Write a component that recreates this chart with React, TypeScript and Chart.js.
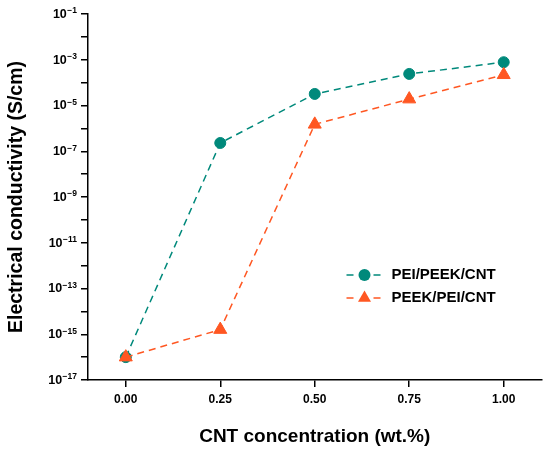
import { useEffect, useRef } from "react"
import { Chart, registerables } from "chart.js"

Chart.register(...registerables)

const concentrations = [0, 0.25, 0.5, 0.75, 1.0]
const peiPeekCnt = [1e-16, 2.3e-7, 3.2e-5, 2.4e-4, 7.8e-4]
const peekPeiCnt = [1e-16, 1.6e-15, 1.5e-6, 1.9e-5, 2.2e-4]
const xTicks = [0, 0.25, 0.5, 0.75, 1.0]
const yExponents = [-17, -16, -15, -14, -13, -12, -11, -10, -9, -8, -7, -6, -5, -4, -3, -2, -1]
const yLabelExponents = [-17, -15, -13, -11, -9, -7, -5, -3, -1]

const TEAL = "rgb(0, 137, 123)"
const ORANGE = "rgb(255, 87, 34)"
const FONT = "'Liberation Sans', Arial, sans-serif"

// y tick labels as 10 with a raised exponent
const powerLabels = {
  id: "powerLabels",
  afterDraw(chart: Chart) {
    const ctx = chart.ctx
    const scale: any = chart.scales.y
    const right = scale.right - 11
    ctx.save()
    ctx.fillStyle = "#000"
    ctx.textBaseline = "middle"
    ctx.textAlign = "right"
    yLabelExponents.forEach(e => {
      const y = scale.getPixelForValue(Math.pow(10, e))
      const exp = "−" + String(Math.abs(e))
      ctx.font = `bold 8.5px ${FONT}`
      const w = ctx.measureText(exp).width
      ctx.fillText(exp, right, y - 3)
      ctx.font = `bold 12.5px ${FONT}`
      ctx.fillText("10", right - w - 0.5, y + 0.5)
    })
    ctx.restore()
  },
}

// legend drawn inside the plot area
const insideLegend = {
  id: "insideLegend",
  afterDraw(chart: Chart) {
    const ctx = chart.ctx
    const ca = chart.chartArea
    const x0 = ca.right - 195
    const rows = [ca.top + 261, ca.top + 284]
    chart.data.datasets.forEach((ds: any, i: number) => {
      const y = rows[i]
      ctx.save()
      ctx.strokeStyle = ds.borderColor
      ctx.lineWidth = 1.5
      ctx.beginPath()
      ctx.moveTo(x0, y); ctx.lineTo(x0 + 7, y)
      ctx.moveTo(x0 + 27, y); ctx.lineTo(x0 + 34, y)
      ctx.stroke()
      ctx.fillStyle = ds.backgroundColor
      const cx = x0 + 18
      ctx.beginPath()
      if (ds.pointStyle === "triangle") {
        const r = ds.pointRadius
        let rad = 0
        ctx.moveTo(cx + Math.sin(rad) * r, y - Math.cos(rad) * r)
        rad += (Math.PI * 2) / 3
        ctx.lineTo(cx + Math.sin(rad) * r, y - Math.cos(rad) * r)
        rad += (Math.PI * 2) / 3
        ctx.lineTo(cx + Math.sin(rad) * r, y - Math.cos(rad) * r)
        ctx.closePath()
      } else {
        ctx.arc(cx, y, ds.pointRadius + 0.5, 0, Math.PI * 2)
      }
      ctx.fill()
      ctx.fillStyle = "#000"
      ctx.font = `bold 15px ${FONT}`
      ctx.textBaseline = "middle"
      ctx.fillText(ds.label, x0 + 45, y)
      ctx.restore()
    })
  },
}

export default function App() {
  const chartRef = useRef<HTMLCanvasElement>(null)
  const chartInstance = useRef<Chart | null>(null)

  useEffect(() => {
    if (!chartRef.current) return
    if (chartInstance.current) chartInstance.current.destroy()
    const ctx = chartRef.current.getContext("2d")
    if (!ctx) return

    chartInstance.current = new Chart(ctx, {
      type: "line",
      data: {
        datasets: [
          {
            label: "PEI/PEEK/CNT",
            data: concentrations.map((x, i) => ({ x, y: peiPeekCnt[i] })),
            borderColor: TEAL,
            backgroundColor: TEAL,
            pointBorderColor: TEAL,
            borderWidth: 1.5,
            borderDash: [7, 5],
            pointStyle: "circle",
            pointRadius: 5.5,
            pointBorderWidth: 1,
            order: 2,
          },
          {
            label: "PEEK/PEI/CNT",
            data: concentrations.map((x, i) => ({ x, y: peekPeiCnt[i] })),
            borderColor: ORANGE,
            backgroundColor: ORANGE,
            pointBorderColor: ORANGE,
            borderWidth: 1.5,
            borderDash: [7, 5],
            pointStyle: "triangle",
            pointRadius: 7.5,
            pointBorderWidth: 1,
            order: 1,
          },
        ],
      },
      options: {
        animation: false,
        responsive: true,
        maintainAspectRatio: false,
        layout: { padding: { top: 14, right: 7, left: 0, bottom: 0 } },
        scales: {
          x: {
            type: "linear",
            min: -0.1,
            max: 1.1,
            afterBuildTicks: (scale: any) => {
              scale.ticks = xTicks.map(v => ({ value: v }))
            },
            afterFit: (scale: any) => {
              scale.height = 74
            },
            grid: { drawOnChartArea: false, drawTicks: true, tickLength: 7, color: "#000", lineWidth: 1.5 },
            border: { display: true, color: "#000", width: 1.5 },
            ticks: {
              color: "#000",
              padding: 5,
              font: { family: FONT, size: 12, weight: "bold" },
              callback: (v: any) => Number(v).toFixed(2),
            },
            title: {
              display: true,
              text: "CNT concentration (wt.%)",
              color: "#000",
              font: { family: FONT, size: 19, weight: "bold" },
              padding: { top: 4, bottom: 6 },
            },
          },
          y: {
            type: "logarithmic",
            min: 1e-17,
            max: 1e-1,
            afterBuildTicks: (scale: any) => {
              scale.ticks = yExponents.map(e => ({ value: Math.pow(10, e) }))
            },
            afterFit: (scale: any) => {
              scale.width = 88
            },
            grid: { drawOnChartArea: false, drawTicks: true, tickLength: 7, color: "#000", lineWidth: 1.5 },
            border: { display: true, color: "#000", width: 1.5 },
            ticks: {
              color: "#000",
              padding: 5,
              autoSkip: false,
              font: { family: FONT, size: 12, weight: "bold" },
              callback: () => "",
            },
            title: {
              display: true,
              text: "Electrical conductivity (S/cm)",
              color: "#000",
              font: { family: FONT, size: 19.5, weight: "bold" },
              padding: { top: 5, bottom: 4 },
            },
          },
        },
        plugins: {
          legend: { display: false },
          tooltip: { enabled: false },
        },
      },
      plugins: [powerLabels, insideLegend],
    })

    return () => {
      if (chartInstance.current) {
        chartInstance.current.destroy()
        chartInstance.current = null
      }
    }
  }, [])

  return (
    <div style={{ position: "absolute", left: 0, top: 0, width: 550, height: 454, background: "#fff" }}>
      <canvas ref={chartRef} />
    </div>
  )
}
